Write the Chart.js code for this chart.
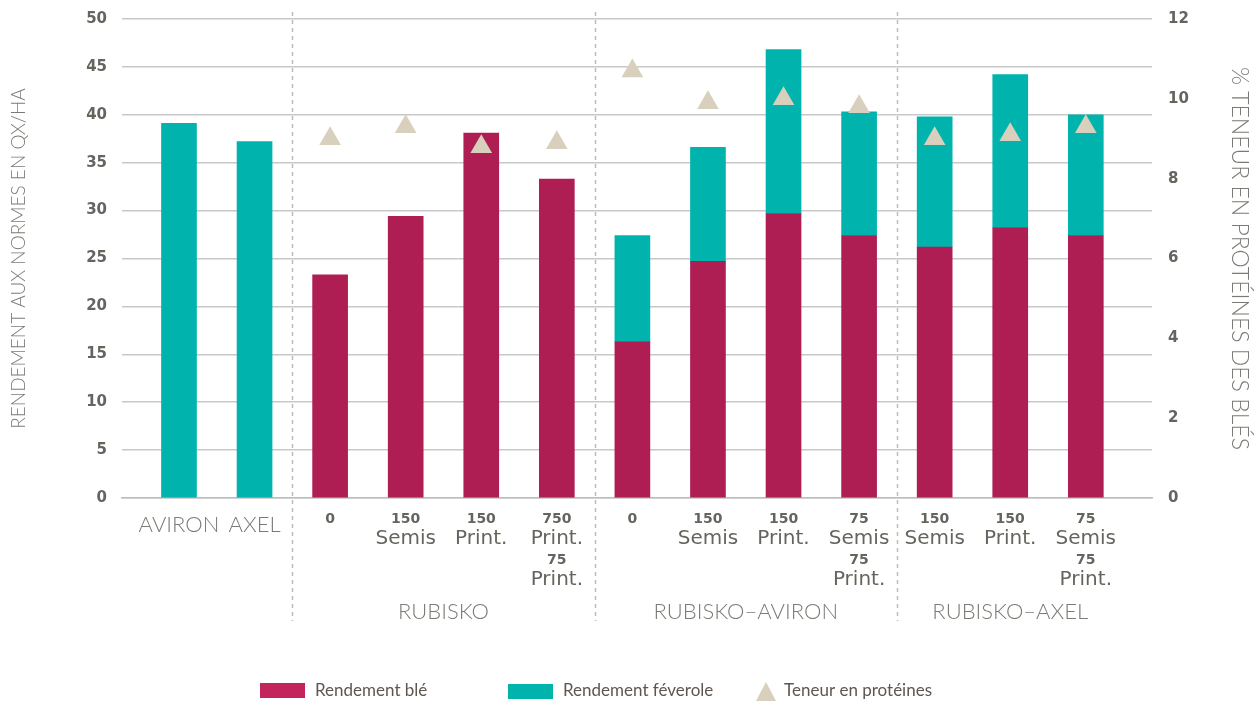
<!DOCTYPE html>
<html lang="fr">
<head>
<meta charset="utf-8">
<title>Rendement et teneur en protéines</title>
<script src="https://cdn.jsdelivr.net/npm/chart.js@4.4.1/dist/chart.umd.min.js"></script>
<style>
  html, body { margin: 0; padding: 0; background: #fff; }
  #wrap { width: 1260px; height: 706px; }
</style>
</head>
<body>
<div id="wrap"><canvas id="chart" width="1260" height="706"></canvas></div>
<script>
// categories (one array of lines per bar)
const categoryLines = [
    ['AVIRON'], ['AXEL'],
    ['0'], ['150', 'Semis'], ['150', 'Print.'], ['750', 'Print.', '75', 'Print.'],
    ['0'], ['150', 'Semis'], ['150', 'Print.'], ['75', 'Semis', '75', 'Print.'],
    ['150', 'Semis'], ['150', 'Print.'], ['75', 'Semis', '75', 'Print.']
];
const groupLabels = ['RUBISKO', 'RUBISKO–AVIRON', 'RUBISKO–AXEL'];
const groupStart = [2, 6, 10];
const groupEnd = [5, 9, 12];

// qx/ha
const rendementBle = [null, null, 23.3, 29.4, 38.1, 33.3, 16.3, 24.7, 29.7, 27.4, 26.2, 28.2, 27.4];
const rendementFeverole = [39.1, 37.2, null, null, null, null, 11.1, 11.9, 17.1, 12.9, 13.6, 16.0, 12.6];
// % protéines
const teneurProteines = [null, null, 9.0, 9.3, 8.8, 8.9, 10.7, 9.9, 10.0, 9.8, 9.0, 9.1, 9.3];

const leftTicks = [0, 5, 10, 15, 20, 25, 30, 35, 40, 45, 50];
const rightTicks = [0, 2, 4, 6, 8, 10, 12];

const BLE = '#ae1e53';
const FEV = '#00b4ad';
const PROT = '#d9cfbd';
const GREY = '#65655f';
const LIGHT = '#7b7b76';

const labelsPlugin = {
    id: 'customLabels',
    beforeDatasetsDraw(chart) {
        const { ctx, scales: { x } } = chart;
        ctx.save();
        ctx.strokeStyle = '#bdbdbd';
        ctx.lineWidth = 1.5;
        ctx.setLineDash([4, 4]);
        groupStart.forEach(s => {
            const px = Math.round((x.getPixelForValue(s - 1) + x.getPixelForValue(s)) / 2) + 0.5;
            ctx.beginPath();
            ctx.moveTo(px, 12);
            ctx.lineTo(px, 621);
            ctx.stroke();
        });
        ctx.restore();
    },
    afterDraw(chart) {
        const { ctx, scales: { x } } = chart;
        ctx.save();
        ctx.textAlign = 'center';
        ctx.textBaseline = 'middle';

        // category labels
        categoryLines.forEach((lines, i) => {
            const cx = x.getPixelForValue(i);
            if (i < groupStart[0]) {
                ctx.font = '300 22px Lato';
                ctx.fillStyle = LIGHT;
                ctx.fillText(lines[0], cx, 525);
                return;
            }
            let yy = 519;
            lines.forEach(t => {
                if (/^\d+$/.test(t)) {
                    ctx.font = 'bold 14px "DejaVu Sans"';
                    ctx.fillStyle = GREY;
                    ctx.fillText(t, cx, yy);
                    yy += 20;
                } else {
                    ctx.font = '20px "DejaVu Sans"';
                    ctx.fillStyle = GREY;
                    ctx.fillText(t, cx, yy);
                    yy += 21;
                }
            });
        });

        // group labels
        ctx.font = '300 22px Lato';
        ctx.fillStyle = LIGHT;
        groupLabels.forEach((g, k) => {
            const cx = (x.getPixelForValue(groupStart[k]) + x.getPixelForValue(groupEnd[k])) / 2;
            ctx.fillText(g, cx, 612);
        });

        // legend
        ctx.textAlign = 'left';
        ctx.font = '17px Lato';
        ctx.fillStyle = '#c2245b';
        ctx.fillRect(260, 683, 45, 15);
        ctx.fillStyle = FEV;
        ctx.fillRect(508, 684, 45, 15);
        ctx.fillStyle = PROT;
        ctx.beginPath();
        ctx.moveTo(766, 682);
        ctx.lineTo(776, 701);
        ctx.lineTo(756, 701);
        ctx.closePath();
        ctx.fill();
        ctx.fillStyle = '#5e574f';
        ctx.fillText(chart.data.datasets[1].label, 315, 691);
        ctx.fillText(chart.data.datasets[2].label, 563, 691);
        ctx.fillText(chart.data.datasets[0].label, 784, 691);
        ctx.restore();
    }
};

new Chart(document.getElementById('chart'), {
    type: 'bar',
    data: {
        labels: categoryLines,
        datasets: [
            {
                type: 'line',
                label: 'Teneur en protéines',
                data: teneurProteines,
                yAxisID: 'y1',
                showLine: false,
                pointStyle: 'triangle',
                pointRadius: 12.5,
                pointHoverRadius: 12.5,
                pointBackgroundColor: PROT,
                pointBorderWidth: 0,
                order: 0
            },
            {
                label: 'Rendement blé',
                data: rendementBle,
                backgroundColor: BLE,
                barThickness: 35,
                yAxisID: 'y',
                order: 1
            },
            {
                label: 'Rendement féverole',
                data: rendementFeverole,
                backgroundColor: FEV,
                barThickness: 35,
                yAxisID: 'y',
                order: 2
            }
        ]
    },
    options: {
        responsive: false,
        animation: false,
        devicePixelRatio: 1,
        layout: { padding: { top: 19, left: 0, right: 0, bottom: 0 } },
        plugins: {
            legend: { display: false },
            tooltip: { enabled: false }
        },
        scales: {
            x: {
                stacked: true,
                grid: { display: false },
                border: { display: true, color: '#bdbdbd', width: 1.5 },
                ticks: { display: false },
                afterBuildTicks: (axis) => {
                    // spread the categories like the original layout
                    axis._startValue = -0.754;
                    axis._valueRange = 13.63;
                },
                afterFit: (axis) => { axis.height = 208; }
            },
            y: {
                stacked: true,
                position: 'left',
                min: 0,
                max: 50,
                afterBuildTicks: (axis) => { axis.ticks = leftTicks.map(v => ({ value: v })); },
                afterFit: (axis) => {
                    axis.width = 122;
                    axis.paddingTop = 0;
                    axis.paddingBottom = 0;
                },
                grid: { color: '#c8c8c8', lineWidth: 1.5, drawTicks: false },
                border: { display: false },
                ticks: {
                    padding: 15,
                    color: GREY,
                    font: { family: 'DejaVu Sans', size: 15, weight: 'bold' }
                },
                title: {
                    display: true,
                    text: 'RENDEMENT AUX NORMES EN QX/HA',
                    color: LIGHT,
                    padding: { top: 7, bottom: 0 },
                    font: { family: 'Lato', size: 19, weight: 300 }
                }
            },
            y1: {
                stacked: false,
                position: 'right',
                min: 0,
                max: 12,
                afterBuildTicks: (axis) => { axis.ticks = rightTicks.map(v => ({ value: v })); },
                afterFit: (axis) => {
                    axis.width = 108;
                    axis.paddingTop = 0;
                    axis.paddingBottom = 0;
                },
                grid: { display: false, drawTicks: false },
                border: { display: false },
                ticks: {
                    padding: 16,
                    color: GREY,
                    font: { family: 'DejaVu Sans', size: 15, weight: 'bold' }
                },
                title: {
                    display: true,
                    text: '% TENEUR EN PROTÉINES DES BLÉS',
                    color: LIGHT,
                    padding: { top: 7, bottom: 0 },
                    font: { family: 'Lato', size: 23, weight: 300 }
                }
            }
        }
    },
    plugins: [labelsPlugin]
});
</script>
</body>
</html>
